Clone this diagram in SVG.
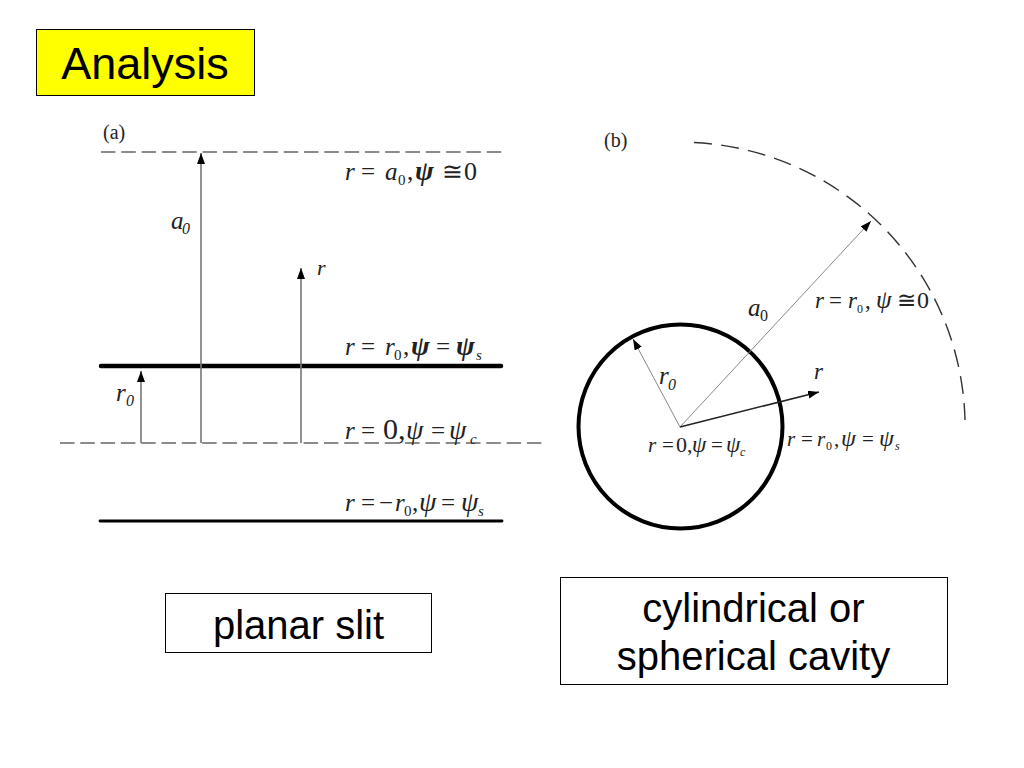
<svg xmlns="http://www.w3.org/2000/svg" width="1024" height="768" viewBox="0 0 1024 768">
<style>
.t{font-family:"Liberation Sans",Arial,sans-serif;fill:#000}
.m{font-family:"Liberation Serif","Times New Roman",serif;fill:#222}
.i{font-style:italic}
.b{font-weight:bold}
.s{font-size:15px}
.e{font-size:25px}
.p{font-size:28px}
.o{font-size:21px}
.q{font-size:23px}
.u{font-size:12px}
.box{fill:#fff;stroke:#000;stroke-width:1}
.dash{fill:none;stroke:#666;stroke-width:1.300;stroke-dasharray:14.500 5.800}
.thin{fill:none;stroke:#777;stroke-width:1.600}
.hair{fill:none;stroke:#888;stroke-width:1}
.dark{fill:none;stroke:#222;stroke-width:1.500}
</style>
<defs>
<marker id="ah" viewBox="0 0 10 10" refX="10" refY="5" markerWidth="11" markerHeight="8" markerUnits="userSpaceOnUse" orient="auto" preserveAspectRatio="none"><path d="M0 0L10 5L0 10Z" fill="#000"/></marker>
</defs>
<rect width="1024" height="768" fill="#fff"/>
<g id="title"><rect x="36.500" y="29.500" width="218" height="66" fill="#ffff00" stroke="#000"/><text class="t" x="145" y="79" font-size="45" text-anchor="middle">Analysis</text></g>
<g id="connectors">
<path class="dash" d="M101 152H502"/>
<path class="dash" d="M60 443H542"/>
<path d="M101 366H501" fill="none" stroke="#000" stroke-width="4.500" stroke-linecap="round"/>
<path d="M100 521H502" fill="none" stroke="#000" stroke-width="2.800" stroke-linecap="round"/>
<path class="thin" d="M201 443V153" marker-end="url(#ah)"/>
<path class="thin" d="M301 443V268" marker-end="url(#ah)"/>
<path class="thin" d="M141 443V371" marker-end="url(#ah)"/>
<path d="M694 142.500A285 285 0 0 1 965 420" fill="none" stroke="#333" stroke-width="1.400" stroke-dasharray="18 9.300"/>
<circle cx="680.500" cy="426.500" r="102" fill="none" stroke="#000" stroke-width="4"/>
<path class="hair" d="M680 427L633 339" marker-end="url(#ah)"/>
<path class="hair" d="M680 427L871 221" marker-end="url(#ah)"/>
<path class="dark" d="M680 427L819 392" marker-end="url(#ah)"/>
</g>
<g id="panel-a-labels">
<text class="m" x="103" y="139" font-size="20">(a)</text>
<text class="m i" x="171" y="229" font-size="25">a</text><text class="m i" x="182" y="234" font-size="16">0</text>
<text class="m i" x="317" y="275" font-size="22">r</text>
<text class="m i" x="116" y="401" font-size="25">r</text><text class="m i" x="126" y="406" font-size="16">0</text>
<g id="eq-a0"><text class="m i e" x="345" y="180">r</text><text class="m e" x="361" y="180">=</text><text class="m i e" x="385" y="180">a</text><text class="m s" x="398" y="185">0</text><text class="m e" x="407" y="180">,</text><text class="m i b p" x="415" y="180">ψ</text><text class="m e" x="442" y="180">≅</text><text class="m" x="464" y="180" font-size="26">0</text></g>
<g id="eq-r0"><text class="m i e" x="345" y="355">r</text><text class="m e" x="361" y="355">=</text><text class="m i e" x="385" y="355">r</text><text class="m s" x="394" y="360">0</text><text class="m e" x="403" y="355">,</text><text class="m i b p" x="411" y="355">ψ</text><text class="m e" x="436" y="355">=</text><text class="m i b p" x="456" y="355">ψ</text><text class="m i s" x="476" y="360">s</text></g>
<g id="eq-0"><text class="m i e" x="345" y="439">r</text><text class="m e" x="361" y="439">=</text><text class="m" x="383" y="439" font-size="30">0,</text><text class="m i p" x="406" y="439">ψ</text><text class="m e" x="431" y="439">=</text><text class="m i p" x="449" y="439">ψ</text><text class="m i s" x="470" y="444">c</text></g>
<g id="eq-neg"><text class="m i e" x="345" y="511">r</text><text class="m e" x="361" y="511">=</text><text class="m e" x="379" y="511">−</text><text class="m i e" x="395" y="511">r</text><text class="m s" x="404" y="516">0</text><text class="m e" x="412" y="511">,</text><text class="m i p" x="419" y="511">ψ</text><text class="m e" x="441" y="511">=</text><text class="m i p" x="461" y="511">ψ</text><text class="m i s" x="478" y="516">s</text></g>
</g>
<g id="panel-b-labels">
<text class="m" x="604" y="147" font-size="20">(b)</text>
<text class="m i" x="748" y="316" font-size="25">a</text><text class="m" x="760" y="321" font-size="16">0</text>
<text class="m i" x="659" y="384" font-size="25">r</text><text class="m i" x="668" y="390" font-size="16">0</text>
<text class="m i" x="814" y="379" font-size="23">r</text>
<g id="eq-b1"><text class="m i q" x="815" y="308">r</text><text class="m q" x="829" y="308">=</text><text class="m i q" x="848" y="308">r</text><text class="m u" x="857" y="313">0</text><text class="m q" x="865" y="308">,</text><text class="m i" x="876" y="308" font-size="25">ψ</text><text class="m q" x="897" y="308">≅</text><text class="m" x="917" y="308" font-size="24">0</text></g>
<g id="eq-b2"><text class="m i o" x="648" y="452">r</text><text class="m o" x="662" y="452">=</text><text class="m" x="676" y="452" font-size="22">0,</text><text class="m i" x="692" y="452" font-size="23">ψ</text><text class="m o" x="711" y="452">=</text><text class="m i" x="726" y="452" font-size="23">ψ</text><text class="m i u" x="740" y="456">c</text></g>
<g id="eq-b3"><text class="m i o" x="787" y="446">r</text><text class="m o" x="801" y="446">=</text><text class="m i o" x="817" y="446">r</text><text class="m u" x="826" y="450">0</text><text class="m o" x="834" y="446">,</text><text class="m i" x="841" y="446" font-size="24">ψ</text><text class="m o" x="862" y="446">=</text><text class="m i" x="879" y="446" font-size="24">ψ</text><text class="m i u" x="895" y="450">s</text></g>
</g>
<g id="caption-planar"><rect class="box" x="165.500" y="593.500" width="266" height="59"/><text class="t" x="298.500" y="639" font-size="40" text-anchor="middle">planar slit</text></g>
<g id="caption-cavity"><rect class="box" x="560.500" y="577.500" width="387" height="107"/><text class="t" x="753.500" y="622" font-size="40" text-anchor="middle">cylindrical or</text><text class="t" x="753.500" y="670" font-size="40" text-anchor="middle">spherical cavity</text></g>
</svg>
